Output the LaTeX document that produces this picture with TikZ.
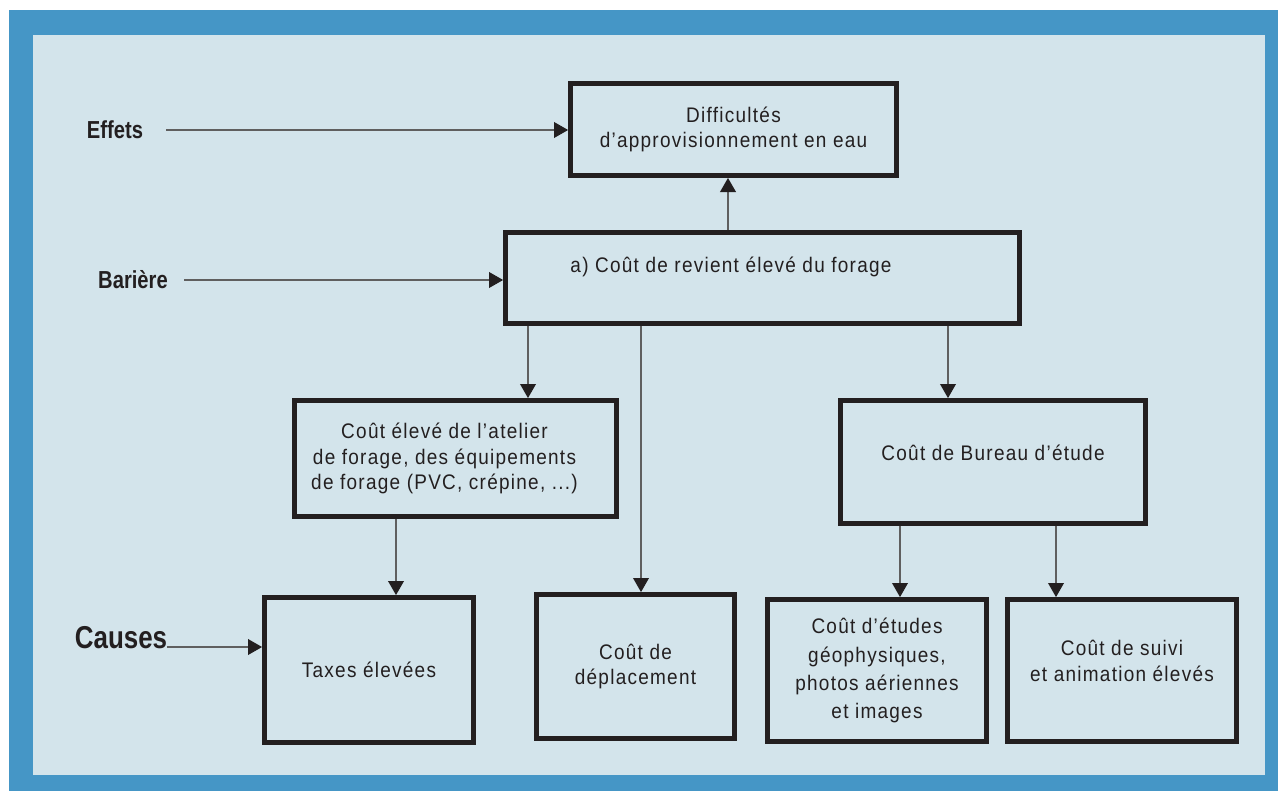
\documentclass[tikz,border=0pt]{standalone}
\usepackage{fontspec}
\setmainfont{Liberation Sans}
\newfontfamily\boxfont[FakeStretch=0.9,LetterSpace=6]{Liberation Sans}
\newfontfamily\labfont[FakeStretch=0.82]{Liberation Sans}
\usetikzlibrary{arrows.meta}

\definecolor{frameblue}{RGB}{69,150,198}
\definecolor{innerbg}{RGB}{211,228,235}
\definecolor{boxblack}{RGB}{35,31,32}
\definecolor{linegray}{RGB}{95,95,95}

\tikzset{
  causebox/.style={rectangle, draw=boxblack, line width=2.8pt, align=center,
    text=boxblack, font=\boxfont\fontsize{12pt}{14.5pt}\selectfont},
  causetext/.style={text=boxblack, align=center, font=\boxfont\fontsize{12pt}{14.5pt}\selectfont},
  levellabel/.style={inner sep=0pt, text=boxblack,
    font=\labfont\bfseries\fontsize{14pt}{16pt}\selectfont},
  conn/.style={draw=linegray, line width=0.6pt,
    -{Triangle[length=8pt,width=9pt,color=boxblack]}}
}

\begin{document}
\begin{tikzpicture}[x=0.02cm, y=-0.02cm]
    % Frame
    \useasboundingbox (0,0) rectangle (1278,791);
    \fill[white] (0,0) rectangle (1278,791);
    \fill[frameblue] (9,10) rectangle (1278,791);
    \fill[innerbg] (33,35) rectangle (1265,775);

    % Effet
    \node[causebox, minimum width=6.52cm, minimum height=1.84cm] (difficultes) at (733.5,129.5)
        {Difficultés\\d’approvisionnement en eau};

    % Bariere
    \node[causebox, minimum width=10.28cm, minimum height=1.82cm,
        label={[causetext, xshift=-0.63cm, yshift=0.22cm]center:a) Coût de revient élevé du forage}]
        (cout) at (762.5,278) {};

    % Causes
    \node[causebox, minimum width=6.44cm, minimum height=2.32cm,
        label={[causetext, xshift=-0.22cm]center:Coût élevé de l’atelier\\de forage, des équipements\\de forage (PVC, crépine, ...)}]
        (atelier) at (455.5,458.5) {};
    \node[causebox, minimum width=6.10cm, minimum height=2.46cm,
        label={[causetext, yshift=0.18cm]center:Coût de Bureau d’étude}]
        (bureau) at (993,462) {};
    \node[causebox, minimum width=4.18cm, minimum height=2.90cm] (taxes) at (369,670)
        {Taxes élevées};
    \node[causebox, minimum width=3.96cm, minimum height=2.88cm] (deplacement) at (635.5,666.5)
        {Coût de\\déplacement};
    \node[causebox, minimum width=4.38cm, minimum height=2.84cm,
        font=\boxfont\fontsize{12pt}{16pt}\selectfont] (etudes) at (877,670.5)
        {Coût d’études\\géophysiques,\\photos aériennes\\et images};
    \node[causebox, minimum width=4.58cm, minimum height=2.84cm,
        label={[causetext, yshift=0.19cm]center:Coût de suivi\\et animation élevés}]
        (suivi) at (1122,670.5) {};

    % Labels
    \node[levellabel] (effets) at (115,130) {Effets};
    \node[levellabel] (bariere) at (133,280) {Barière};
    \node[levellabel, font=\labfont\bfseries\fontsize{18pt}{20pt}\selectfont] (causes) at (121,638) {Causes};

    % Connections
    \draw[conn, shorten <=0.46cm] (effets.east) -- (effets.east -| difficultes.west);
    \draw[conn, shorten <=0.32cm] (bariere.east) -- (bariere.east -| cout.west);
    \draw[conn] ([yshift=-0.18cm]causes.east) -- ([yshift=-0.18cm]causes.east -| taxes.west);
    \draw[conn] (cout.north -| 728,0) -- (difficultes.south -| 728,0);
    \foreach \from/\to/\x in {cout/atelier/528, cout/deplacement/641, cout/bureau/948,
        atelier/taxes/396, bureau/etudes/900, bureau/suivi/1056}
        \draw[conn] (\from.south -| \x,0) -- (\to.north -| \x,0);
\end{tikzpicture}
\end{document}
